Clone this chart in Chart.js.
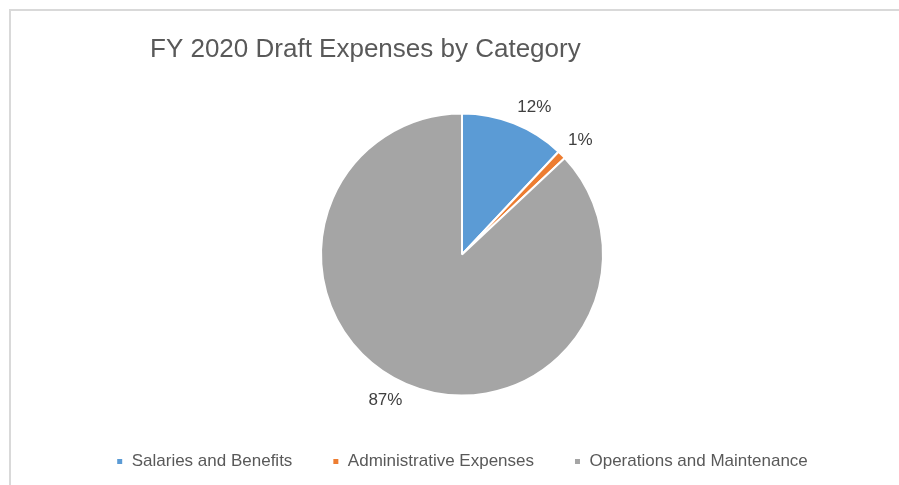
<!DOCTYPE html>
<html>
<head>
<meta charset="utf-8">
<script src="https://cdn.jsdelivr.net/npm/chart.js@4"></script>
<style>
  body { margin: 0; background: #fff; }
  .frame { position: absolute; left: 9px; top: 9px; width: 900px; height: 490px;
           border-left: 2px solid #d9d9d9; border-top: 2px solid #d9d9d9; }
  canvas { position: absolute; left: 0; top: 0; }
</style>
</head>
<body>
<div class="frame"></div>
<canvas id="grafico" width="899" height="485"></canvas>
<script>
const titulo = 'FY 2020 Draft Expenses by Category';
const categorias = ['Salaries and Benefits', 'Administrative Expenses', 'Operations and Maintenance'];
const porcentajes = [12, 1, 87];
const colores = ['#5B9BD5', '#ED7D31', '#A5A5A5'];

// titulo a la izquierda, como en la hoja de calculo
const pluginTitulo = {
    id: 'tituloFijo',
    afterDraw(chart) {
        const ctx = chart.ctx;
        ctx.save();
        ctx.font = '26px "Liberation Sans", Arial, sans-serif';
        ctx.fillStyle = '#595959';
        ctx.textBaseline = 'middle';
        ctx.textAlign = 'left';
        ctx.fillText(titulo, 150, 50);
        ctx.restore();
    }
};

// etiquetas de porcentaje fuera de cada porcion
const pluginEtiquetas = {
    id: 'etiquetas',
    afterDatasetsDraw(chart) {
        const ctx = chart.ctx;
        const arcos = chart.getDatasetMeta(0).data;
        ctx.save();
        ctx.font = '17px "Liberation Sans", Arial, sans-serif';
        ctx.fillStyle = '#404040';
        ctx.textAlign = 'center';
        ctx.textBaseline = 'middle';
        arcos.forEach((arco, i) => {
            const p = arco.getProps(['x', 'y', 'startAngle', 'endAngle', 'outerRadius'], true);
            const medio = (p.startAngle + p.endAngle) / 2;
            const ux = Math.cos(medio), uy = Math.sin(medio);
            const texto = porcentajes[i] + '%';
            const ancho = ctx.measureText(texto).width;
            const r = p.outerRadius + 9;
            const x = p.x + r * ux + Math.sign(ux) * ancho / 2;
            const y = p.y + r * uy + Math.sign(uy) * 8;
            ctx.fillText(texto, x, y);
        });
        ctx.restore();
    }
};

const contexto = document.getElementById('grafico').getContext('2d');

const graficoGastos = new Chart(contexto, {
    type: 'pie',
    data: {
        labels: categorias,
        datasets: [{
            data: porcentajes,
            backgroundColor: colores,
            borderColor: '#ffffff',
            borderWidth: 2,
        }],
    },
    options: {
        responsive: false,
        animation: false,
        radius: 141,
        layout: {
            padding: { top: 96, bottom: 5, left: 25, right: 0 },
        },
        plugins: {
            tooltip: { enabled: false },
            legend: {
                position: 'bottom',
                labels: {
                    boxWidth: 7,
                    boxHeight: 7,
                    padding: 40,
                    color: '#595959',
                    font: { family: '"Liberation Sans", Arial, sans-serif', size: 17 },
                },
            },
        },
    },
    plugins: [pluginTitulo, pluginEtiquetas],
});
</script>
</body>
</html>
